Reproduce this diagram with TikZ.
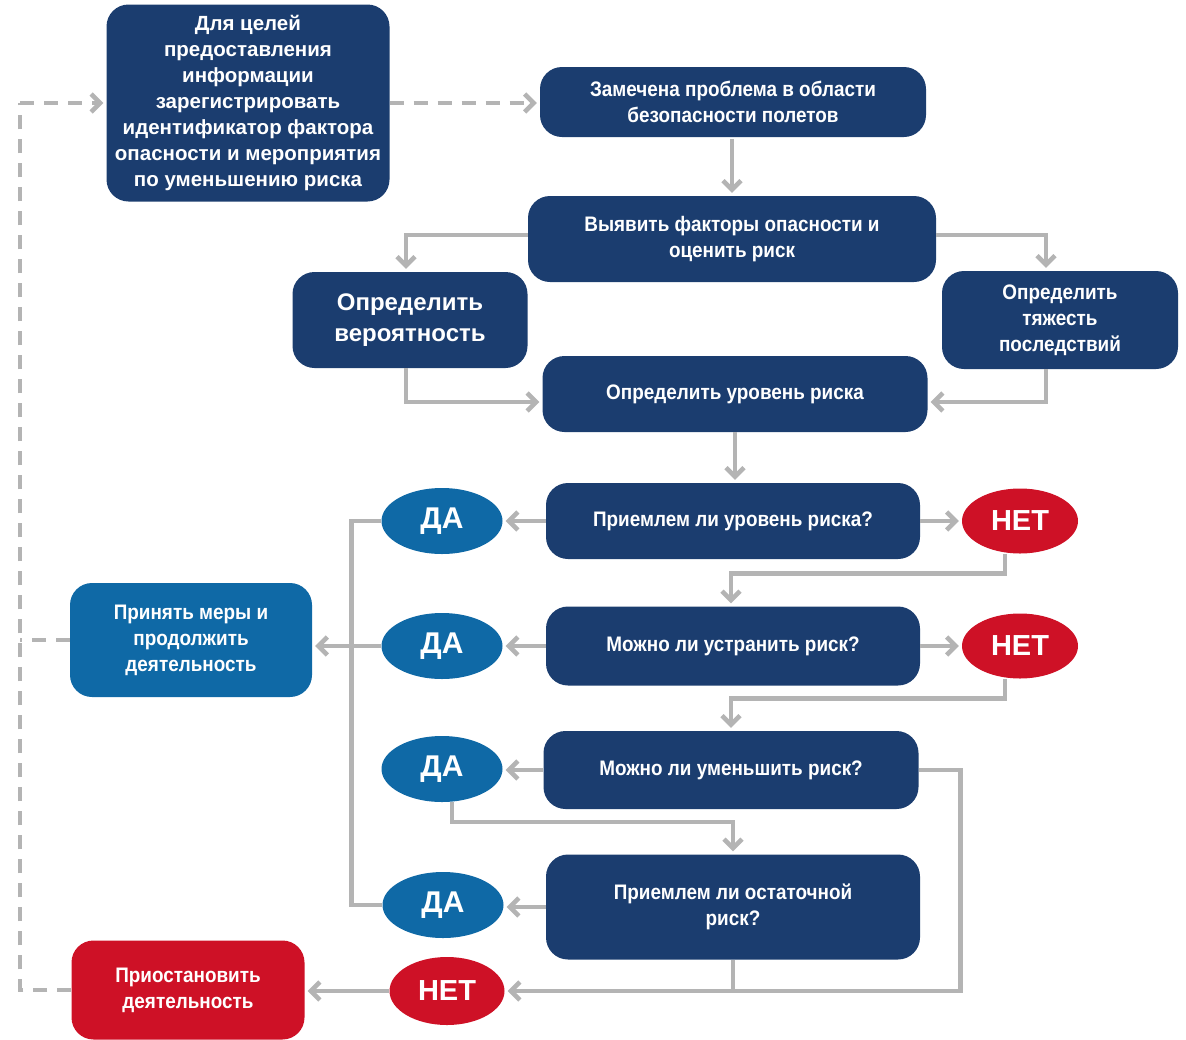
\documentclass[tikz,border=0pt]{standalone}
\usepackage{fontspec}
\setmainfont{Liberation Sans}[FakeStretch=0.9]
\newfontfamily\wide{Liberation Sans}
\usetikzlibrary{arrows.meta,calc,shapes.geometric}
\definecolor{navy}{HTML}{1B3D6F}
\definecolor{lblue}{HTML}{0F69A6}
\definecolor{rred}{HTML}{CE1126}
\definecolor{lgrey}{HTML}{B4B4B4}
\tikzset{
  box/.style={fill=navy, rounded corners=22pt, text=white, align=center, font=\bfseries\fontsize{21}{26}\selectfont, inner sep=0pt},
  oval/.style={ellipse, fill=lblue, text=white, font=\wide\bfseries\fontsize{30}{32}\selectfont, minimum width=121pt, minimum height=66pt, inner sep=0pt},
  noval/.style={oval, fill=rred, font=\wide\bfseries\fontsize{29}{32}\selectfont},
  gline/.style={draw=lgrey, line width=4.5pt},
  conn/.style={gline, -{Straight Barb[length=9pt,width=18pt,line width=4.5pt]}, shorten >=3pt},
  dline/.style={draw=lgrey, line width=4.5pt, dash pattern=on 14pt off 10pt},
  dconn/.style={dline, -{Straight Barb[length=9pt,width=18pt,line width=4.5pt]}, shorten >=3pt},
}
\begin{document}
\begin{tikzpicture}[x=1pt,y=-1pt]
\useasboundingbox (0,0) rectangle (1186,1039);
% nodes
\node[box, font=\wide\bfseries\fontsize{20.5}{26}\selectfont, minimum width=283pt, minimum height=197pt] (b1) at (248,103) {Для целей\\предоставления\\информации\\зарегистрировать\\идентификатор фактора\\опасности и мероприятия\\по уменьшению риска};
\node[box, minimum width=386pt, minimum height=70pt] (b2) at (733,102) {Замечена проблема в области\\безопасности полетов};
\node[box, minimum width=408pt, minimum height=86pt] (b3) at (732,239) {Выявить факторы опасности и\\оценить риск};
\node[box, font=\wide\bfseries\fontsize{24}{31}\selectfont, minimum width=235pt, minimum height=96pt] (b4) at (410,320) {Определить\\вероятность};
\node[box, minimum width=236pt, minimum height=98pt] (b5) at (1060,320) {Определить\\тяжесть\\последствий};
\node[box, minimum width=385pt, minimum height=76pt] (b6) at (735,394) {Определить уровень риска};
\node[box, minimum width=374pt, minimum height=76pt] (b7) at (733,521) {Приемлем ли уровень риска?};
\node[oval] (da1) at (442,521) {ДА};
\node[noval, minimum width=116pt, minimum height=65pt] (net1) at (1020,521) {НЕТ};
\node[box, minimum width=374pt, minimum height=79pt] (b10) at (733,646) {Можно ли устранить риск?};
\node[oval] (da2) at (442,646) {ДА};
\node[noval, minimum width=116pt, minimum height=65pt] (net2) at (1020,646) {НЕТ};
\node[box, fill=lblue, minimum width=242pt, minimum height=114pt] (b13) at (191,640) {Принять меры и\\продолжить\\деятельность};
\node[box, minimum width=375pt, minimum height=78pt] (b14) at (731,770) {Можно ли уменьшить риск?};
\node[oval] (da3) at (442,769) {ДА};
\node[box, minimum width=374pt, minimum height=105pt] (b16) at (733,907) {Приемлем ли остаточной\\риск?};
\node[oval] (da4) at (443,905) {ДА};
\node[noval, minimum width=115pt, minimum height=68pt] (net3) at (447,991) {НЕТ};
\node[box, fill=rred, minimum width=233pt, minimum height=99pt] (b19) at (188,990) {Приостановить\\деятельность};
% dashed
\coordinate (L1) at (20,103);
\draw[dline] (b13.west) -- (b13.west -| L1);
\draw[dline] (b19.west) -- (b19.west -| L1) -- (L1);
\draw[dconn] (L1) -- (b1.west);
\draw[dconn] (b1.east) -- (b1.east -| b2.west);
% solid
\draw[conn] ($(b3.north)+(0,-57)$) coordinate (t2) -- (b3.north);
\draw[conn] ($(b3.west)+(0,-4)$) -| ($(b4.north)+(-4,0)$);
\draw[conn] ($(b3.east)+(0,-4)$) -| ($(b5.north)+(-14,0)$);
\draw[conn] ($(b4.south)+(-4,0)$) |- ($(b6.west)+(0,8)$);
\draw[conn] ($(b5.south)+(-14,0)$) |- ($(b6.east)+(0,8)$);
\draw[conn] (b6.south) -- (b6.south |- b7.north);
\draw[conn] (b7.west) -- (da1.east);
\draw[conn] (b7.east) -- (net1.west);
\draw[conn] ($(net1.south)+(-15,0)$) -- ++(0,20) -| ($(b10.north)+(-2,0)$);
\draw[conn] (b10.west) -- (da2.east);
\draw[conn] (b10.east) -- (net2.west);
\draw[conn] ($(net2.south)+(-15,0)$) -- ++(0,20) -| (b14.north);
\draw[conn] (b14.west) -- (b14.west -| da3.east);
\draw[conn] ($(da3.south)+(10,0)$) -- ++(0,20) -| (b16.north);
\draw[conn] (b16.west) -- (b16.west -| da4.east);
\draw[gline] (da1.west) -- ++(-30,0) |- (da4.west);
\draw[conn] (da2.west) -- (da2.west -| b13.east);
\draw[conn] (b14.east) -- ++(42,0) |- (net3.east);
\draw[gline] (b16.south) -- (b16.south |- net3.east);
\draw[conn] (net3.west) -- (net3.west -| b19.east);
\end{tikzpicture}
\end{document}
